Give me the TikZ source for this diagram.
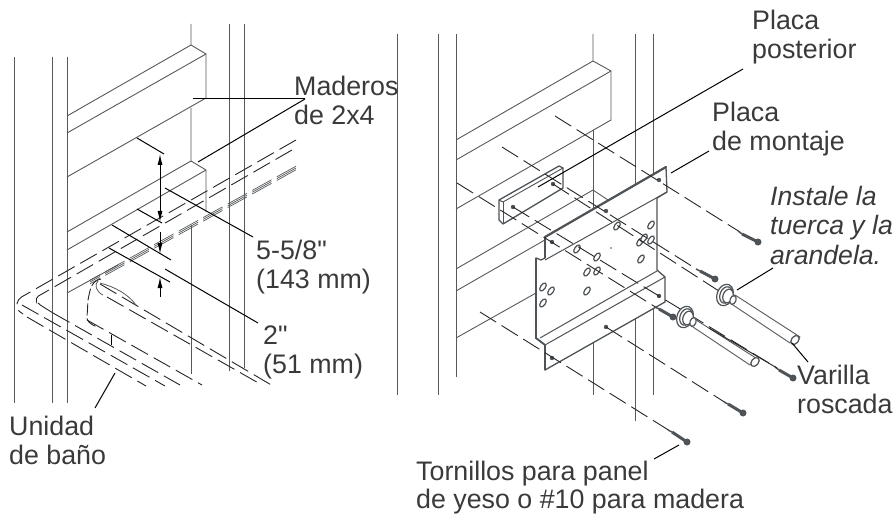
\documentclass[tikz,border=0pt]{standalone}
\usepackage{fontspec}
\setmainfont{Liberation Sans}
\newfontfamily\plainf[Ligatures=NoCommon]{Liberation Sans}
\usetikzlibrary{arrows.meta}
\definecolor{wd}{HTML}{55595C}
\definecolor{txt}{HTML}{3A3A3A}
\definecolor{pl}{HTML}{4E5357}
\tikzset{
  wood/.style={draw=wd,line width=0.9pt,line join=round},
  lead/.style={draw=black,line width=1pt},
  dsh/.style={draw=black!85,line width=0.9pt,dash pattern=on 19pt off 6.5pt},
  hat/.style={draw=wd,line width=0.7pt,dash pattern=on 22pt off 6pt},
  label/.style={anchor=base west,inner sep=0pt,text=txt,font=\fontsize{26.8}{29}\selectfont},
  ilabel/.style={label,font=\fontsize{26.6}{29}\selectfont\itshape},
  plate/.style={draw=pl,line width=1.3pt,line join=round,fill=white},
  hole/.style={fill=pl,draw=none},
  slot/.style={draw=pl,line width=1.2pt,fill=white},
}
\newcommand{\myscrew}[3]{% tail, mid, head
  \draw[pl,line width=1.5pt] (#1) -- (#2);
  \draw[pl,line width=3pt] (#2) -- (#3);
  \fill[pl] (#3) circle (3.5pt);}
\newcommand{\myslot}[2]{\draw[slot] (#1,#2) ellipse [x radius=4.6pt,y radius=2.4pt,rotate=55];}
\newcommand{\myquote}{{\plainf\symbol{34}}}
\newcommand{\mywasher}[2]{%
  \begin{scope}[shift={(#1,#2)}]
    \draw[slot] (0,0) ellipse [x radius=11pt,y radius=8pt,rotate=70];
    \draw[slot] (1,0) ellipse [x radius=8.5pt,y radius=6pt,rotate=70];
    \draw[slot] (3,1) ellipse [x radius=7pt,y radius=5pt,rotate=70];
    \draw[slot] (8,5) ellipse [x radius=4.5pt,y radius=3pt,rotate=70];
  \end{scope}}
\begin{document}
\begin{tikzpicture}[x=1pt,y=-1pt]
\useasboundingbox (0,0) rectangle (895,516);
%% ---------- left panel ----------
\foreach \x in {14,52,67} \draw[wood] (\x,57) -- (\x,403);
\draw[wood] (229,24) -- (229,371);
\draw[wood] (244,24) -- (244,368);
\draw[wood] (191,24) -- (191,45) -- (206,54) -- (206,98) -- (67,177);
\draw[wood] (67,116) -- (191,45);
\draw[wood] (206,54) -- (67,133);
\draw[wood] (191,108) -- (191,161) -- (206,170) -- (206,212);
\draw[wood] (67,232) -- (191,161);
\draw[wood] (206,170) -- (67,250);
\draw[wood] (67,293) -- (118,265);
\draw[wood] (191,225) -- (191,374);
% bath upper rim
\draw[dsh,rounded corners=4pt] (296,140) -- (18,299) -- (16,309) -- (23,314);
\draw[dsh,rounded corners=4pt] (292,150) -- (35,298) -- (37,303) -- (53,313);
\foreach \d in {-1.8,0,1.8}
  \draw[hat] (296,168+\d) -- (90,282+\d);
% bath front lines
\draw[dsh] (53,313) -- (180,385);
\draw[dsh] (22,305) -- (165,386);
\draw[dsh] (27,317) -- (146,386);
\draw[dsh] (87,320) -- (202,385);
\draw[dsh] (100,284) -- (273,386);
\draw[dsh] (107,297) -- (262,385);
% fixture
\draw[dsh,dash pattern=on 12pt off 3pt] (101,279) .. controls (91,281) and (90,290) .. (88,300) -- (87,318) .. controls (87,321) and (90,324) .. (97,327);
\draw[wood,line width=0.8pt] (98,281) .. controls (94,284) and (96,292) .. (103,295);
\draw[wood,line width=0.8pt] (100,283) .. controls (115,287) and (128,294) .. (136,305);
\draw[lead] (111,335) -- (111,345);
% dimension leaders and arrows
\draw[lead] (137,138) -- (164,154);
\draw[lead] (137,209) -- (162,223);
\draw[lead] (112,225) -- (171,260);
\draw[lead] (109,248) -- (170,282);
\draw[lead] (165,188) -- (253,237);
\draw[lead] (165,269) -- (258,323);
\draw[lead,{Latex[length=11pt,width=5pt]}-{Latex[length=11pt,width=5pt]}] (160,154) -- (160,222);
\draw[lead,-{Latex[length=11pt,width=5pt]}] (160,232) -- (160,254);
\draw[lead,-{Latex[length=11pt,width=5pt]}] (160,297) -- (160,277);
\draw[lead] (193,99) -- (305,99);
\draw[lead] (198,162) -- (305,99);
\draw[lead] (115,373) -- (95,408);
%% ---------- right panel ----------
\draw[wood] (397,34) -- (397,395);
\draw[wood] (438,34) -- (438,395);
\draw[wood] (456,34) -- (456,377);
\draw[wood] (635,34) -- (635,421);
\draw[wood] (653,34) -- (653,395);
\draw[wood] (593,34) -- (593,61) -- (611,71) -- (611,120) -- (456,209);
\draw[wood] (456,140) -- (593,61);
\draw[wood] (611,71) -- (456,160);
\draw[wood] (593,130) -- (593,395);
\draw[wood] (456,269) -- (593,190) -- (611,202);
\draw[wood] (456,291) -- (611,202);
\draw[wood] (456,338) -- (536,293);
% back plate
\draw[plate] (499,200) -- (559,166) -- (563,168) -- (563,188) -- (503,224) -- (499,220) -- cycle;
\draw[draw=pl,line width=0.9pt] (503,202) -- (563,168);
\draw[draw=pl,line width=0.9pt] (503,202) -- (503,224);
\draw[draw=pl,line width=0.9pt] (499,200) -- (503,202);
\fill[hole] (513,207) circle (2.2pt);
\fill[hole] (553,184) circle (2.2pt);
% mounting plate
\draw[plate] (545,237) -- (666,167) -- (667,192) -- (657,198) -- (657,270) -- (665,277) -- (665,302) -- (545,370) -- (545,345) -- (536,338) -- (536,258) -- (541,260) -- (545,258) -- cycle;
\draw[draw=pl,line width=2.2pt,line cap=round] (545,237) -- (666,167);
\draw[draw=pl,line width=1.8pt] (545,237) -- (545,258);
\draw[draw=pl,line width=1.8pt] (536,258) -- (536,338) -- (545,345) -- (545,370);
\draw[draw=pl,line width=1pt] (545,260) -- (667,192);
\draw[draw=pl,line width=1pt] (545,345) -- (665,277);
\draw[draw=pl,line width=1pt] (540,338) -- (657,271);
\foreach \p in {(659,180),(606,211),(552,242),(659,296),(606,327),(552,358)}
  \fill[hole] \p circle (2.2pt);
\fill[hole] (611,248) circle (0.8pt);
\myslot{543}{287}\myslot{551}{291}\myslot{543}{303}
\myslot{587}{291}\myslot{587}{272}\myslot{597}{271}
\myslot{597}{257}\myslot{577}{249}\myslot{617}{226}
\myslot{651}{225}\myslot{641}{259}\myslot{640}{242}
\myslot{644}{238}\myslot{651}{240}
% fastener axes
\draw[dsh] (555,116) -- (740,232);
\draw[dsh] (502,147) -- (698,270);
\draw[dsh] (457,183) -- (657,308);
\draw[dsh] (553,184) -- (722,293);
\draw[dsh] (513,207) -- (777,368);
\draw[dsh] (606,327) -- (726,403);
\draw[dsh] (480,312) -- (670,431);
% screws
\myscrew{738,231}{742,234}{758,242}
\myscrew{696,269}{700,271}{715,279}
\myscrew{655,307}{659,309}{673,317}
\myscrew{775,367}{779,370}{793,378}
\myscrew{724,402}{728,404}{743,413}
\myscrew{668,430}{672,432}{687,442}
% threaded rods
\draw[wood,fill=white] (735,295) -- (800,337) -- (790,343) -- (730,303) -- cycle;
\draw[slot] (795,340) ellipse [x radius=5pt,y radius=3.5pt,rotate=50];
\draw[wood,fill=white] (693,318) -- (759,360) -- (750,365) -- (690,325) -- cycle;
\draw[slot] (755,362) ellipse [x radius=5pt,y radius=3.5pt,rotate=50];
\draw[draw=black!85,line width=0.9pt] (709,328) -- (777,368);
\mywasher{725}{295}
\mywasher{685}{317}
% right leaders
\draw[lead] (538,187) -- (743,69);
\draw[lead] (671,173) -- (709,151);
\draw[lead] (737,290) -- (773,268);
\draw[lead] (792,343) -- (808,362);
\draw[lead] (654,459) -- (679,445);
%% ---------- labels ----------
\node[label] (t1) at (294,96) {Maderos};
\node[label] (t2) at (294,125) {de 2x4};
\node[label] (t3) at (256,259) {5-5/8\myquote};
\node[label] (t4) at (256,288) {(143 mm)};
\node[label] (t5) at (263,344) {2\myquote};
\node[label] (t6) at (263,373) {(51 mm)};
\node[label] (t7) at (9,435) {Unidad};
\node[label] (t8) at (9,464) {de baño};
\node[label] (t9) at (752,30) {Placa};
\node[label] (t10) at (752,59) {posterior};
\node[label] (t11) at (712,122) {Placa};
\node[label] (t12) at (712,151) {de montaje};
\node[ilabel] (t13) at (770,206) {Instale la};
\node[ilabel] (t14) at (770,235) {tuerca y la};
\node[ilabel] (t15) at (770,264) {arandela.};
\node[label] (t16) at (797,384) {Varilla};
\node[label] (t17) at (797,413) {roscada};
\node[label] (t18) at (416,480) {Tornillos para panel};
\node[label] (t19) at (416,508) {de yeso o \#10 para madera};
\end{tikzpicture}
\end{document}
